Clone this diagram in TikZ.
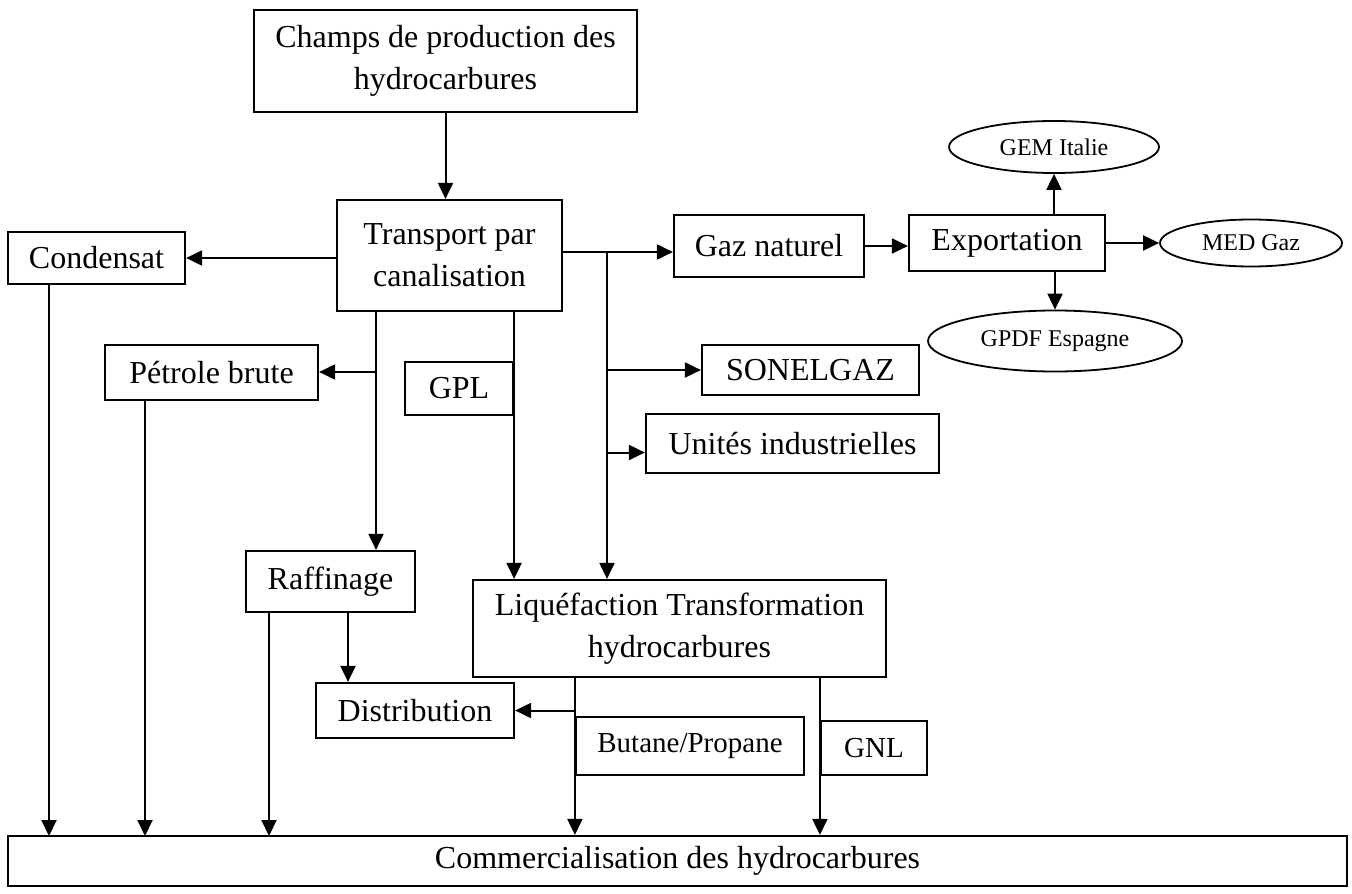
\documentclass[tikz,border=0pt]{standalone}
\usepackage{fontspec}
\setmainfont{Liberation Serif}
\usetikzlibrary{shapes.geometric,arrows.meta}
\begin{document}
\begin{tikzpicture}[x=0.5pt,y=-0.5pt,
    box/.style={draw, line width=1.1pt, inner sep=0pt, align=center, font=\fontsize{16}{21}\selectfont},
    smallbox/.style={box, font=\fontsize{14.5}{18}\selectfont},
    oval/.style={draw, ellipse, line width=0.9pt, inner sep=0pt, font=\fontsize{12}{14}\selectfont},
    link/.style={line width=1pt, -{Triangle[length=8pt,width=7.5pt]}},
    wire/.style={line width=1pt}]
    \useasboundingbox (0,0) rectangle (1352,893);
    \node[box, minimum width=191.5pt, minimum height=51pt] (champs) at (445.5,61) {Champs de production des\\hydrocarbures};
    \node[box, minimum width=112.5pt, minimum height=55.5pt] (transport) at (449.5,255.5) {Transport par\\canalisation};
    \node[box, minimum width=88.5pt, minimum height=26pt] (condensat) at (96.5,258) {Condensat};
    \node[box, minimum width=95pt, minimum height=31pt] (gaz) at (769,246) {Gaz naturel};
    \node[box, minimum width=98pt, minimum height=28pt] (export) at (1007,243) {Exportation};
    \node[oval, minimum width=105pt, minimum height=26pt] (gem) at (1054,147) {GEM Italie};
    \node[oval, minimum width=91pt, minimum height=23.5pt] (med) at (1251,243) {MED Gaz};
    \node[oval, minimum width=127pt, minimum height=30.5pt] (gpdf) at (1055,341) {GPDF Espagne};
    \node[box, minimum width=108.5pt, minimum height=25pt] (sonelgaz) at (810.5,370) {SONELGAZ};
    \node[box, minimum width=146.5pt, minimum height=29.5pt] (unites) at (792.5,443.5) {Unités industrielles};
    \node[box, minimum width=106.5pt, minimum height=27.5pt] (petrole) at (211.5,372.5) {Pétrole brute};
    \node[box, minimum width=54pt, minimum height=26.5pt] (gpl) at (459,388.5) {GPL};
    \node[box, minimum width=84.5pt, minimum height=30.5pt] (raffinage) at (330.5,581.5) {Raffinage};
    \node[box, minimum width=206.5pt, minimum height=48.5pt] (liq) at (679.5,628.5) {Liquéfaction Transformation\\hydrocarbures};
    \node[box, minimum width=99pt, minimum height=27.5pt] (distribution) at (415,710.5) {Distribution};
    \node[smallbox, minimum width=114pt, minimum height=29pt] (butane) at (690,746) {Butane/Propane};
    \node[smallbox, minimum width=53pt, minimum height=27pt] (gnl) at (874,748) {GNL};
    \node[box, minimum width=669.5pt, minimum height=25pt] (commerce) at (677.5,861) {Commercialisation des hydrocarbures};
    \coordinate (bus) at (607,252);
    \coordinate (crude) at (376,372);
    \coordinate (refine) at (348,650);
    \coordinate (ubr) at ([yshift=-4.5pt]unites.west);
    \coordinate (c1) at (49,836);
    \coordinate (c2) at (145,836);
    \coordinate (c3) at (269,836);
    \draw[link] (champs.south) -- (champs.south |- transport.north);
    \draw[link] (transport.west |- condensat) -- (condensat.east);
    \draw[wire] (transport.east |- bus) -- (bus);
    \draw[link] (bus) -- (gaz.west |- bus);
    \draw[link] (bus) -- (bus |- liq.north);
    \draw[link] (bus |- sonelgaz) -- (sonelgaz.west);
    \draw[link] (bus |- ubr) -- (ubr);
    \draw[link] (gaz.east) -- (gaz.east -| export.west);
    \draw[link] (gem |- export.north) -- (gem.south);
    \draw[link] (export.east |- med) -- (med.west);
    \draw[link] (gpdf |- export.south) -- (gpdf.north);
    \draw[link] (transport.south -| crude) -- (crude |- raffinage.north);
    \draw[link] (crude) -- (petrole.east |- crude);
    \draw[link] (transport.south -| gpl.east) -- (liq.north -| gpl.east);
    \draw[link] (raffinage.south -| refine) -- (distribution.north -| refine);
    \draw[link] (butane.west |- distribution.east) -- (distribution.east);
    \draw[link] (liq.south -| butane.west) -- (commerce.north -| butane.west);
    \draw[link] (liq.south -| gnl.west) -- (commerce.north -| gnl.west);
    \draw[link] (condensat.south -| c1) -- (c1);
    \draw[link] (petrole.south -| c2) -- (c2);
    \draw[link] (raffinage.south -| c3) -- (c3);
\end{tikzpicture}
\end{document}
